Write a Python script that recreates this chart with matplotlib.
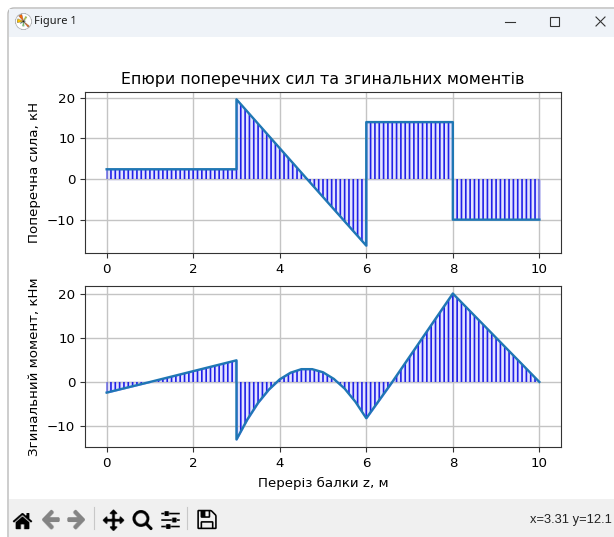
import os
import numpy as np
import matplotlib
matplotlib.use("Agg")
import matplotlib.pyplot as plt
from matplotlib.patches import FancyBboxPatch, Rectangle

# shear force diagram
z_q = [0, 3, 3, 4.63, 6, 6, 8, 8, 10, 10]
q = [2.4, 2.4, 19.6, 0, -16.4, 14, 14, -10, -10, 0]

# bending moment diagram
z_m = [0, 1, 3, 3, 3.25, 3.5, 3.75, 4, 4.25, 4.5, 4.75, 5, 5.25, 5.5, 5.75, 6, 6.6, 8, 10]
m = [-2.4, 0, 4.9, -13, -8.5, -4.7, -1.7, 0.6, 2.1, 2.9, 2.9, 2.2, 0.7, -1.5, -4.5, -8.2, 0, 20, 0]

W, H = 614, 537


def px_axes(fig, x0, y0, x1, y1):
    # pixel box measured from the top left corner of the picture
    return fig.add_axes([x0 / W, 1 - y1 / H, (x1 - x0) / W, (y1 - y0) / H])


def icon(fig, name, x, y, size, alpha=1.0):
    path = os.path.join(matplotlib.get_data_path(), "images", name)
    ax = px_axes(fig, x, y, x + size, y + size)
    ax.imshow(plt.imread(path), alpha=alpha, interpolation='antialiased')
    ax.axis('off')


def diagram(ax, z, v):
    # stripes every 0.1 m, cut to the shape of the diagram
    poly = ax.fill_between(z, v, 0, facecolor='#e4e4ff', edgecolor='#9090ff', linewidth=0.9)
    stripes = ax.vlines(np.arange(0, 10.01, 0.1), -30, 30, color='#2020e8', lw=1.2, snap=False)
    stripes.set_clip_path(poly.get_paths()[0], poly.get_transform())


fig = plt.figure(figsize=(W / 100, H / 100), dpi=100)

# window chrome
bg = fig.add_axes([0, 0, 1, 1], zorder=-1)
bg.set_xlim(0, W)
bg.set_ylim(H, 0)
bg.axis('off')
bg.add_patch(FancyBboxPatch((8, 8), W + 20, H, boxstyle="round,pad=0,rounding_size=6",
                            fc='white', ec='#b9b9b9', lw=1))
bg.add_patch(Rectangle((8.5, 8.5), W, 28, fc='#eff3f8', ec='none'))
bg.add_patch(Rectangle((8.5, 499), W, 38, fc='#f0f0f0', ec='none'))
bg.text(34, 21.5, "Figure 1", fontsize=8, family='Noto Sans', va='center', color='#1a1a1a')
bg.plot([505, 515], [21.5, 21.5], color='#333333', lw=0.8)
bg.add_patch(Rectangle((550, 17), 8.5, 9, fc='none', ec='#333333', lw=0.8))
bg.plot([596, 605], [17, 26], color='#333333', lw=0.8)
bg.plot([596, 605], [26, 17], color='#333333', lw=0.8)
bg.plot([94, 94], [507, 529], color='#c8c8c8', lw=0.8)
bg.plot([187, 187], [507, 529], color='#c8c8c8', lw=0.8)
bg.text(612, 520, "x=3.31 y=12.1", fontsize=9.3, family='Liberation Sans', va='center', ha='right',
        color='#222222')

icon(fig, "matplotlib.png", 15, 13, 17)
icon(fig, "home.png", 11, 508, 23)
icon(fig, "back.png", 39, 508, 23, alpha=0.45)
icon(fig, "forward.png", 65, 508, 23, alpha=0.45)
icon(fig, "move.png", 102, 508, 23)
icon(fig, "zoom_to_rect.png", 131, 508, 23)
icon(fig, "subplots.png", 159, 508, 23)
icon(fig, "filesave.png", 195, 508, 23)

# plots
ax1 = px_axes(fig, 85, 92, 561, 253)
ax2 = px_axes(fig, 85, 286, 561, 447)
for ax in (ax1, ax2):
    ax.patch.set_alpha(0)
    ax.tick_params(labelsize=9.6, color='#333333')
    ax.grid(True, color='#c4c4c4', lw=1)
    ax.set_xlim(-0.5, 10.5)
    for s in ax.spines.values():
        s.set_color('#333333')

diagram(ax1, z_q, q)
ax1.plot(z_q[:-1], q[:-1], color='tab:blue', lw=1.7)
ax1.set_ylim(-18.2, 21.4)
ax1.set_yticks([-10, 0, 10, 20])
ax1.set_title("Епюри поперечних сил та згинальних моментів", fontsize=11.4, pad=6)
ax1.set_ylabel("Поперечна сила, кН", fontsize=9.6)

diagram(ax2, z_m, m)
ax2.plot(z_m, m, color='tab:blue', lw=1.7)
ax2.set_ylim(-14.7, 21.7)
ax2.set_yticks([-10, 0, 10, 20])
ax2.set_ylabel("Згинальний момент, кНм", fontsize=9.6)
ax2.set_xlabel("Переріз балки z, м", fontsize=9.6, labelpad=5)

fig.savefig("out.png", dpi=100)
